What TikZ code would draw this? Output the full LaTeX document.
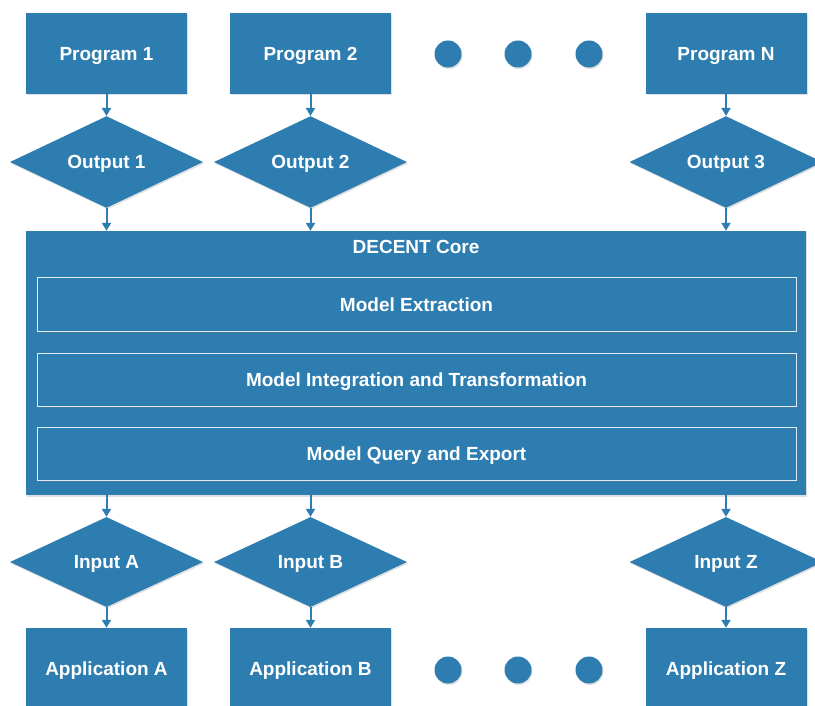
\documentclass[tikz,border=0pt]{standalone}
\usepackage{fontspec}
\setmainfont{Liberation Sans}
\usetikzlibrary{positioning,arrows.meta}
\usetikzlibrary{shapes.geometric}
\usetikzlibrary{shadows}

\definecolor{decentblue}{RGB}{46,125,177}

\tikzset{
  shade/.style={drop shadow={shadow xshift=1pt,shadow yshift=-1.5pt,opacity=0.25}},
  boxtext/.style={text=white,font=\bfseries\fontsize{19}{22}\selectfont,text height=13.6pt,text depth=0pt},
  progbox/.style={rectangle,fill=decentblue,shade,minimum width=161pt,minimum height=81pt,boxtext},
  datadiam/.style={diamond,fill=decentblue,shade,minimum width=193pt,minimum height=90pt,
    inner sep=0pt,boxtext},
  layerbox/.style={rectangle,fill=decentblue,draw=white!85!decentblue,line width=1pt,shade,
    minimum width=759pt,minimum height=53pt,boxtext},
  dotnode/.style={circle,fill=decentblue,shade,minimum size=27pt,inner sep=0pt},
  flow/.style={-{Triangle[width=9pt,length=8pt]},draw=decentblue,line width=2pt}
}

\begin{document}
\begin{tikzpicture}[x=1pt,y=-1pt]
  \useasboundingbox (0,0) rectangle (815,706);

  % programs
  \node[progbox] (p1) at (106.5,53.5) {Program 1};
  \node[progbox] (p2) at (310.5,53.5) {Program 2};
  \node[progbox] (pn) at (726,53.5) {Program N};
  \node[dotnode] (d1) at (448,54) {};
  \node[dotnode] (d2) at (518,54) {};
  \node[dotnode] (d3) at (589,54) {};

  % outputs
  \node[datadiam] (o1) at (106.5,162) {Output 1};
  \node[datadiam] (o2) at (310.5,162) {Output 2};
  \node[datadiam] (o3) at (726,162) {Output 3};

  % core
  \node[rectangle,fill=decentblue,shade,minimum width=780pt,minimum height=264pt] (core) at (416,363) {};
  \node[boxtext] (coretitle) at (416,247) {DECENT Core};
  \node[layerbox] (extract) at (416.5,304.5) {Model Extraction};
  \node[layerbox] (integrate) at (416.5,379.5) {Model Integration and Transformation};
  \node[layerbox] (query) at (416.5,454) {Model Query and Export};

  % inputs
  \node[datadiam] (ia) at (106.5,562) {Input A};
  \node[datadiam] (ib) at (310.5,562) {Input B};
  \node[datadiam] (iz) at (726,562) {Input Z};

  % applications
  \node[progbox] (aa) at (106.5,668.5) {Application A};
  \node[progbox] (ab) at (310.5,668.5) {Application B};
  \node[progbox] (az) at (726,668.5) {Application Z};
  \node[dotnode] (e1) at (448,670) {};
  \node[dotnode] (e2) at (518,670) {};
  \node[dotnode] (e3) at (589,670) {};

  % arrows
  \draw[flow] (p1) -- (o1);
  \draw[flow] (p2) -- (o2);
  \draw[flow] (pn) -- (o3);
  \draw[flow] (o1.south) -- (o1.south |- core.north);
  \draw[flow] (o2.south) -- (o2.south |- core.north);
  \draw[flow] (o3.south) -- (o3.south |- core.north);
  \draw[flow] (ia.north |- core.south) -- (ia.north);
  \draw[flow] (ib.north |- core.south) -- (ib.north);
  \draw[flow] (iz.north |- core.south) -- (iz.north);
  \draw[flow] (ia) -- (aa);
  \draw[flow] (ib) -- (ab);
  \draw[flow] (iz) -- (az);
\end{tikzpicture}
\end{document}
